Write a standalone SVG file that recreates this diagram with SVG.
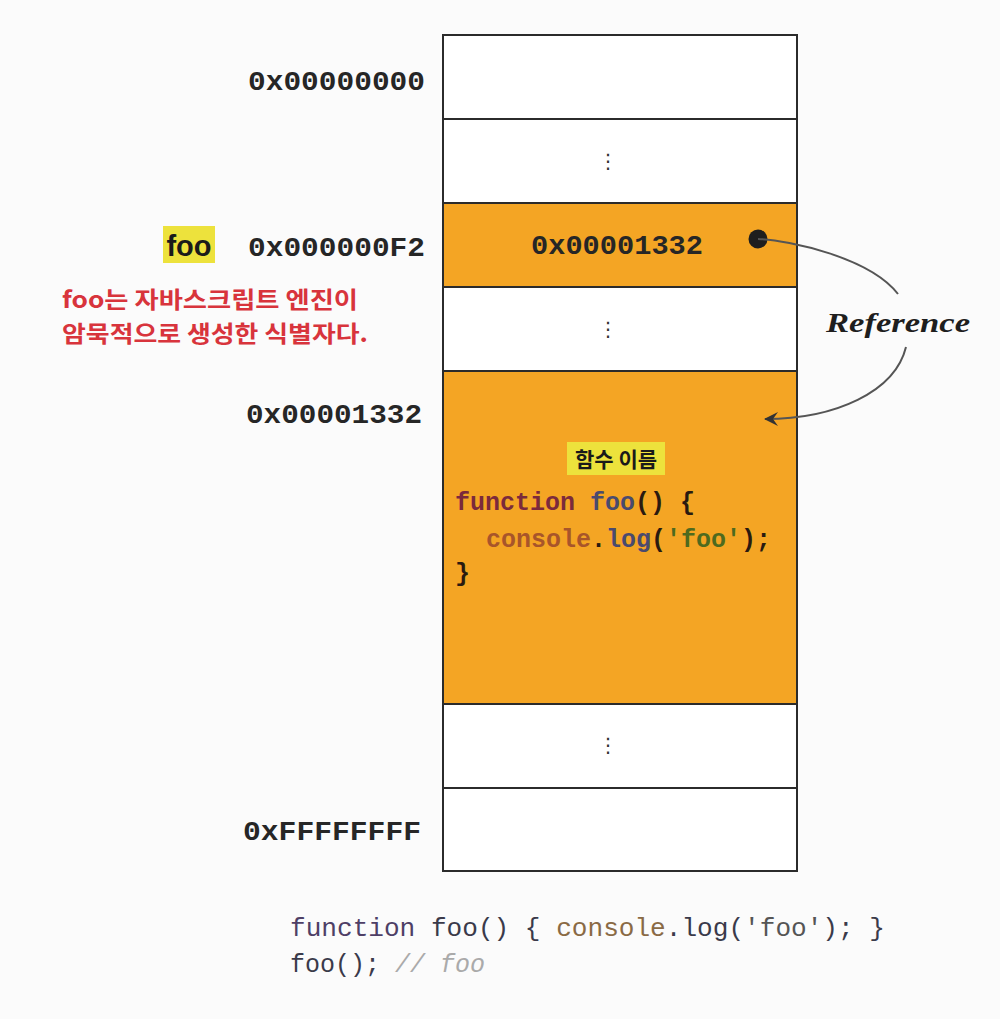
<svg xmlns="http://www.w3.org/2000/svg" width="1000" height="1019" viewBox="0 0 1000 1019">
<defs>
<style>
.cell{stroke:#2b2b2b;stroke-width:2}
.w{fill:#ffffff}
.o{fill:#F4A524}
.addr{font-family:"Liberation Mono","DejaVu Sans Mono",monospace;font-weight:bold;font-size:28px;fill:#262626}
.dots{font-family:"DejaVu Sans",sans-serif;font-size:20px;fill:#333;text-anchor:middle}
.code{font-family:"Liberation Mono","DejaVu Sans Mono",monospace;font-weight:bold;font-size:25px;fill:#2a1a10}
.bcode{font-family:"Liberation Mono","DejaVu Sans Mono",monospace;font-size:25px;fill:#3a3a4a}
.red{font-family:"Noto Sans CJK KR","Noto Sans",sans-serif;font-weight:bold;font-size:23px;fill:#D8343C}
.hl{fill:#EDE23C}
</style>
<marker id="arr" viewBox="0 0 16 16" refX="14" refY="8" markerWidth="16" markerHeight="16" markerUnits="userSpaceOnUse" orient="auto">
<path d="M1,1 L15,8 L1,15 L6,8 Z" fill="#333"/>
</marker>
</defs>
<rect width="1000" height="1019" fill="#fbfbfb"/>

<g id="memory">
<rect class="cell w" x="443" y="35" width="354" height="84"/>
<rect class="cell w" x="443" y="119" width="354" height="84"/>
<rect class="cell o" x="443" y="203" width="354" height="84"/>
<rect class="cell w" x="443" y="287" width="354" height="84"/>
<rect class="cell o" x="443" y="371" width="354" height="333"/>
<rect class="cell w" x="443" y="704" width="354" height="84"/>
<rect class="cell w" x="443" y="788" width="354" height="83"/>
<text class="dots" x="608" y="168">⋮</text>
<text class="dots" x="608" y="336">⋮</text>
<text class="dots" x="608" y="752">⋮</text>
</g>

<g id="addresses">
<text class="addr" x="248" y="90" textLength="177" lengthAdjust="spacingAndGlyphs">0x00000000</text>
<text class="addr" x="248" y="256" textLength="177" lengthAdjust="spacingAndGlyphs">0x000000F2</text>
<text class="addr" x="246" y="423" textLength="176" lengthAdjust="spacingAndGlyphs">0x00001332</text>
<text class="addr" x="243" y="840" textLength="178" lengthAdjust="spacingAndGlyphs">0xFFFFFFFF</text>
</g>

<g id="foo-label">
<rect class="hl" x="163" y="226" width="52" height="37"/>
<text x="189" y="256" text-anchor="middle" font-family="'Liberation Sans',Arial,sans-serif" font-weight="bold" font-size="29" fill="#1a1a1a">foo</text>
</g>

<g id="note">
<text class="red" x="62" y="308" textLength="296" lengthAdjust="spacingAndGlyphs">foo는 자바스크립트 엔진이</text>
<text class="red" x="62" y="342" textLength="306" lengthAdjust="spacingAndGlyphs">암묵적으로 생성한 식별자다.</text>
</g>

<g id="pointer-cell">
<text class="addr" x="617" y="254" text-anchor="middle" font-size="26" fill="#3a2a1a" textLength="172" lengthAdjust="spacingAndGlyphs">0x00001332</text>
<circle cx="758" cy="239" r="9.5" fill="#1e1e1e"/>
</g>

<g id="function-object">
<rect class="hl" x="567" y="442" width="98" height="33"/>
<text x="616" y="467" text-anchor="middle" font-family="'Noto Sans CJK KR',sans-serif" font-weight="bold" font-size="21" fill="#1a1a1a">함수 이름</text>
<text class="code" x="455" y="510"><tspan fill="#7B2A3C">function</tspan> <tspan fill="#4A4A6E">foo</tspan>() {</text>
<text class="code" x="486" y="547"><tspan fill="#A8552A">console</tspan>.<tspan fill="#4A4A6E">log</tspan>(<tspan fill="#4E6A1E">'foo'</tspan>);</text>
<text class="code" x="455" y="581">}</text>
</g>

<g id="connectors" fill="none" stroke="#555" stroke-width="2">
<path d="M758,239 C790,240 870,258 898,294"/>
<path d="M906,347 C895,392 835,419 765,419" marker-end="url(#arr)"/>
</g>

<g id="reference-label">
<text x="898" y="332" text-anchor="middle" font-family="'Liberation Serif','Times New Roman',serif" font-style="italic" font-weight="bold" font-size="28" fill="#1e1e1e" textLength="144" lengthAdjust="spacingAndGlyphs">Reference</text>
</g>

<g id="source-code">
<text class="bcode" x="290" y="936" textLength="595" lengthAdjust="spacingAndGlyphs"><tspan fill="#4E3F66">function</tspan> foo() { <tspan fill="#8A6A45">console</tspan>.log(<tspan fill="#555">'foo'</tspan>); }</text>
<text class="bcode" x="290" y="972">foo(); <tspan fill="#aaaaaa" font-style="italic">// foo</tspan></text>
</g>
</svg>
